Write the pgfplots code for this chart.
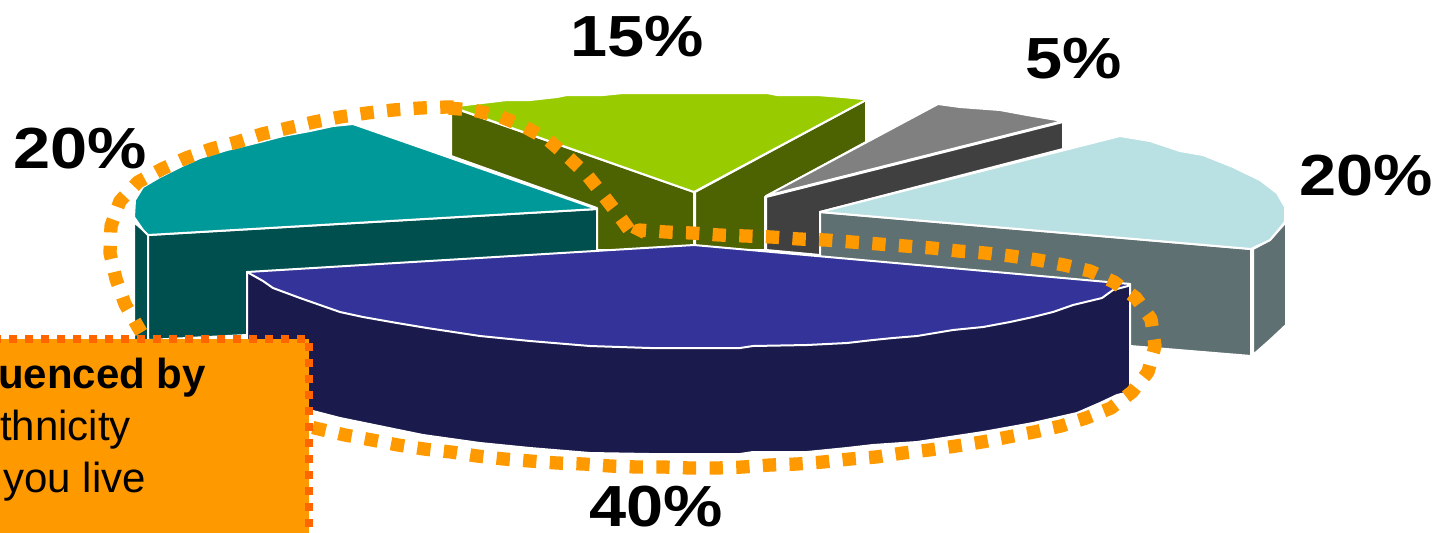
\documentclass[border=0pt]{standalone}
\usepackage{graphicx}
\usepackage{fontspec}
\setmainfont{Liberation Sans}
\usepackage{pgfplots}
\pgfplotsset{compat=1.18}
\definecolor{tealtop}{HTML}{009999}
\definecolor{tealside}{HTML}{004F4F}
\definecolor{greentop}{HTML}{99CC00}
\definecolor{greenside}{HTML}{4D6200}
\definecolor{graytop}{HTML}{808080}
\definecolor{grayside}{HTML}{404040}
\definecolor{icetop}{HTML}{B9E0E3}
\definecolor{iceside}{HTML}{5F7072}
\definecolor{bluetop}{HTML}{333399}
\definecolor{blueside}{HTML}{1A1A4D}
\definecolor{boxfill}{HTML}{FF9900}
\definecolor{boxedge}{HTML}{FF6600}
\newcommand{\biglabel}[1]{\scalebox{1.15}[1]{\fontsize{29}{29}\selectfont\bfseries #1}}
\begin{document}
\begin{tikzpicture}
\path[use as bounding box] (0,0) rectangle (720pt,266pt);
\begin{axis}[at={(0,0)},anchor=south west,width=720pt,height=266pt,scale only axis,hide axis,
  xmin=0,xmax=1440,ymin=0,ymax=532,y dir=reverse,no marks,
  every axis plot/.append style={line join=round,line cap=butt},
  face/.style={draw=white,line width=1pt,fill=#1},
  every node/.style={inner sep=0pt,outer sep=0pt}]
% teal slice, 20%
\addplot[face=tealside] coordinates {(134,222)(143,230)(148,235)(148,345)(134,345)} -- cycle;
\addplot[face=tealside] coordinates {(148,235)(597,209)(597,255)(247,275)(247,335)(148,340)} -- cycle;
\addplot[face=tealtop] coordinates {(148,235)(597,209)(353,124)(333,126)(310,131)(283,136)(260,142)(227,150)(200,158)(180,167)(160,177)(143,187)(135,200)(134,217)(143,230)} -- cycle;
% green slice, 15%
\addplot[face=greenside] coordinates {(451,107)(694,192)(694,250)(597,250)(597,208)(451,156)} -- cycle;
\addplot[face=greenside] coordinates {(695,192)(866,100)(866,142)(765,197)(765,250)(695,250)} -- cycle;
\addplot[face=greentop] coordinates {(452,107)(694,192)(866,100)(863,99)(843,97)(817,95)(777,95)(767,93)(623,93)(603,95)(567,95)(557,97)(530,100)(507,100)(457,106)} -- cycle;
% grey slice, 5%
\addplot[face=grayside] coordinates {(766,197)(1063,122)(1063,149)(820,212)(820,255)(766,250)} -- cycle;
\addplot[face=graytop] coordinates {(766,196)(1063,121)(1027,115)(1000,110)(960,107)(938,104)} -- cycle;
% pale slice, 20%
\addplot[face=iceside] coordinates {(820,212)(1251,249)(1251,356)(1130,346)(820,300)} -- cycle;
\addplot[face=iceside] coordinates {(1253,249)(1270,240)(1286,222)(1286,325)(1270,340)(1253,355)} -- cycle;
\addplot[face=icetop] coordinates {(820,212)(1251,249)(1270,240)(1285,222)(1285,207)(1277,193)(1260,180)(1233,167)(1203,155)(1180,151)(1150,141)(1120,136)} -- cycle;
% blue slice, 40%
\addplot[face=blueside] coordinates {(247,272)(247,380)(273,395)(309,410)(340,418)(423,435)(480,443)(530,448)(590,453)(650,454)(740,454)(753,452)(807,452)(847,448)(873,445)(917,442)(983,432)(1033,423)(1077,413)(1100,403)(1117,395)(1130,392)(1130,284)} -- cycle;
\addplot[face=bluetop] coordinates {(247,272)(694,245)(1130,284)(1128,286)(1113,290)(1102,298)(1073,305)(1053,312)(1033,317)(1010,322)(983,327)(953,330)(917,336)(893,338)(873,340)(847,343)(807,345)(753,346)(740,348)(650,348)(590,346)(530,341)(480,336)(427,328)(397,323)(363,317)(340,312)(300,298)(273,288)(263,281)} -- cycle;
% dotted ring
\addplot[draw=boxfill,line width=6.65pt,dash pattern=on 6.65pt off 6.68pt] coordinates {(453.5,107)(447,107)(420,108)(393,110)(367,113)(340,117)(314,122)(288,128)(262,134)(237,142)(211,149)(186,158)(162,169)(138,182)(120,201)(111,226)(110,253)(116,279)(125,304)(138,327)(152,350)};
\addplot[draw=boxfill,line width=6.65pt,dash pattern=on 6.65pt off 6.68pt] coordinates {(312.7,427.5)(319,429)(345,435)(372,440)(398,445)(424,449)(451,452)(477,456)(504,459)(530,461)(557,463)(584,464)(610,466)(637,467)(664,467)(690,468)(717,468)(743,467)(770,465)(797,464)(823,462)(850,459)(876,457)(903,453)(929,450)(956,446)(982,442)(1008,437)(1034,432)(1061,426)(1086,418)(1111,408)(1132,392)(1148,372)(1155,346)(1151,319)(1136,298)(1114,282)(1090,271)(1064,265)(1038,260)(1011,256)(985,253)(958,251)(932,248)(905,246)(879,244)(852,242)(826,240)(799,239)(772,237)(746,236)(719,235)(692,233)(666,232)(639,230)(635,238)(620,217)(603,195)(587,175)(567,156)(547,139)(523,126)(499,116)(473,110)(447,108)};
% call-out box, cut by the picture's edge
\addplot[fill=boxfill,draw=none] coordinates {(-20,339)(309,339)(309,560)(-20,560)} -- cycle;
\addplot[draw=boxedge,line width=4pt,dash pattern=on 4pt off 4pt] coordinates {(-7,339)(309,339)(309,560)};
\node[anchor=base east] at (axis cs:213,388) {\fontsize{21}{21}\selectfont\bfseries uenced by};
\node[anchor=base east] at (axis cs:138,440) {\fontsize{21}{21}\selectfont thnicity};
\node[anchor=base east] at (axis cs:153,492) {\fontsize{21}{21}\selectfont you live};
% percentages
\node[anchor=base] at (axis cs:637,56) {\biglabel{15\%}};
\node[anchor=base] at (axis cs:1074,78) {\biglabel{5\%}};
\node[anchor=base] at (axis cs:80,168) {\biglabel{20\%}};
\node[anchor=base] at (axis cs:1366,195) {\biglabel{20\%}};
\node[anchor=base] at (axis cs:656,526) {\biglabel{40\%}};
\end{axis}
\end{tikzpicture}
\end{document}
